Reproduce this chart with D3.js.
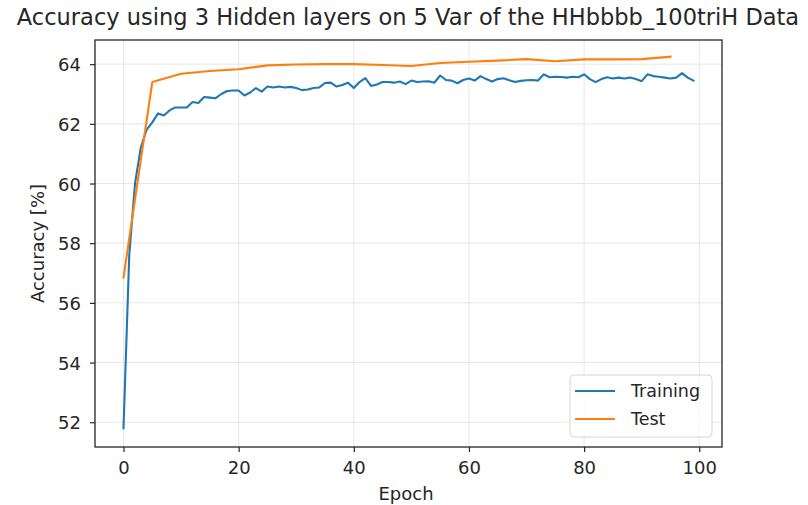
<!DOCTYPE html>
<html>
<head>
<meta charset="utf-8">
<script src="https://cdn.jsdelivr.net/npm/d3@7"></script>
<style>
  html, body { margin: 0; padding: 0; background: #fff; }
  svg text { font-family: "DejaVu Sans", sans-serif; fill: #262626; }
</style>
</head>
<body>
<svg id="chart" width="808" height="505"></svg>
<script>
// Training accuracy, one value per epoch (0..99)
const trainEpochs = d3.range(0, 100);
const trainAccuracy = [
  51.8, 57.6, 60.0, 61.2, 61.8, 62.05, 62.35, 62.28, 62.45, 62.55,
  62.55, 62.55, 62.73, 62.7, 62.9, 62.88, 62.86, 63.0, 63.1, 63.12,
  63.12, 62.95, 63.05, 63.2, 63.08, 63.25, 63.22, 63.25, 63.22, 63.24,
  63.2, 63.13, 63.15, 63.2, 63.22, 63.37, 63.38, 63.25, 63.3, 63.38,
  63.2, 63.4, 63.53, 63.27, 63.32, 63.4, 63.4, 63.38, 63.42, 63.33,
  63.45, 63.4, 63.42, 63.43, 63.38, 63.62, 63.47, 63.45, 63.36, 63.47,
  63.52, 63.45, 63.6, 63.5, 63.42, 63.5, 63.53, 63.46, 63.4, 63.44,
  63.46, 63.47, 63.45, 63.66, 63.56, 63.58, 63.57, 63.55, 63.58, 63.56,
  63.66, 63.5, 63.4, 63.5, 63.56, 63.52, 63.55, 63.52, 63.55, 63.5,
  63.43, 63.66, 63.6, 63.58, 63.55, 63.52, 63.55, 63.7, 63.55, 63.45
];

// Test accuracy, evaluated every 5 epochs
const testEpochs = d3.range(0, 100, 5);
const testAccuracy = [
  56.85, 63.4, 63.68, 63.77, 63.83, 63.96, 63.99, 64.0, 64.0, 63.97,
  63.94, 64.04, 64.08, 64.12, 64.17, 64.1, 64.16, 64.16, 64.17, 64.25
];

const xTicks = [0, 20, 40, 60, 80, 100];
const yTicks = [52, 54, 56, 58, 60, 62, 64];
const seriesNames = ["Training", "Test"];
const seriesColors = ["#1f77b4", "#ff7f0e"];

const titleText = "Accuracy using 3 Hidden layers on 5 Var of the HHbbbb_100triH Data";
const xLabel = "Epoch";
const yLabel = "Accuracy [%]";

// Plot frame
const frame = { left: 95, right: 722, top: 40, bottom: 447 };

const svg = d3.select("#chart");

// x padded by 5% of the epoch span on each side
const xMin = 0, xMax = 99;
const xPad = (xMax - xMin) * 0.05;

const x = d3.scaleLinear()
  .domain([xMin - xPad, xMax + xPad])
  .range([frame.left, frame.right]);
const y = d3.scaleLinear()
  .domain([51.17, 64.81])
  .range([frame.bottom, frame.top]);

// Grid
const grid = svg.append("g").attr("stroke", "#e6e6e6").attr("stroke-width", 1);
grid.selectAll(".gx").data(xTicks).join("line")
  .attr("x1", d => x(d)).attr("x2", d => x(d))
  .attr("y1", frame.top).attr("y2", frame.bottom);
grid.selectAll(".gy").data(yTicks).join("line")
  .attr("x1", frame.left).attr("x2", frame.right)
  .attr("y1", d => y(d)).attr("y2", d => y(d));

// Lines
const line = d3.line().x(d => x(d[0])).y(d => y(d[1]));
const trainPts = trainEpochs.map((e, i) => [e, trainAccuracy[i]]);
const testPts = testEpochs.map((e, i) => [e, testAccuracy[i]]);

svg.append("path").datum(trainPts)
  .attr("d", line).attr("fill", "none")
  .attr("stroke", seriesColors[0]).attr("stroke-width", 2.1)
  .attr("stroke-linejoin", "round").attr("stroke-linecap", "square");
svg.append("path").datum(testPts)
  .attr("d", line).attr("fill", "none")
  .attr("stroke", seriesColors[1]).attr("stroke-width", 2.1)
  .attr("stroke-linejoin", "round").attr("stroke-linecap", "square");

// Axes
const xAxis = d3.axisBottom(x).tickValues(xTicks).tickSize(5).tickFormat(d3.format("d"));
const yAxis = d3.axisLeft(y).tickValues(yTicks).tickSize(5).tickPadding(9).tickFormat(d3.format("d"));

const gx = svg.append("g").attr("transform", `translate(0,${frame.bottom})`).call(xAxis);
const gy = svg.append("g").attr("transform", `translate(${frame.left},0)`).call(yAxis);
[gx, gy].forEach(g => {
  g.select(".domain").remove();
  g.selectAll(".tick line").attr("stroke", "#262626").attr("stroke-width", 1.2);
  g.selectAll(".tick text").attr("font-size", 18).attr("fill", "#262626")
    .style("font-family", "'DejaVu Sans', sans-serif");
});
gx.selectAll(".tick text").attr("y", 27).attr("dy", 0);
gy.selectAll(".tick text").attr("dy", "0.36em");

// Frame spines
svg.append("rect")
  .attr("x", frame.left).attr("y", frame.top)
  .attr("width", frame.right - frame.left).attr("height", frame.bottom - frame.top)
  .attr("fill", "none").attr("stroke", "#262626").attr("stroke-width", 1.3);

// Title and axis labels
svg.append("text").attr("x", 408).attr("y", 25)
  .attr("text-anchor", "middle").attr("font-size", 22.5).text(titleText);
svg.append("text").attr("x", 406).attr("y", 500)
  .attr("text-anchor", "middle").attr("font-size", 18).text(xLabel);
svg.append("text")
  .attr("transform", `translate(44,${(frame.top + frame.bottom) / 2}) rotate(-90)`)
  .attr("text-anchor", "middle").attr("font-size", 18).text(yLabel);

// Legend
const lg = svg.append("g");
lg.append("rect").attr("x", 570).attr("y", 375).attr("width", 142).attr("height", 62)
  .attr("rx", 4).attr("fill", "#fff").attr("fill-opacity", 0.8)
  .attr("stroke", "#d6d6d6").attr("stroke-width", 1);
seriesNames.forEach((name, i) => {
  const yy = 391 + i * 28;
  lg.append("line").attr("x1", 575).attr("x2", 615).attr("y1", yy).attr("y2", yy)
    .attr("stroke", seriesColors[i]).attr("stroke-width", 2.1);
  lg.append("text").attr("x", 631).attr("y", yy).attr("dy", "0.36em")
    .attr("font-size", 17.5).text(name);
});
</script>
</body>
</html>
